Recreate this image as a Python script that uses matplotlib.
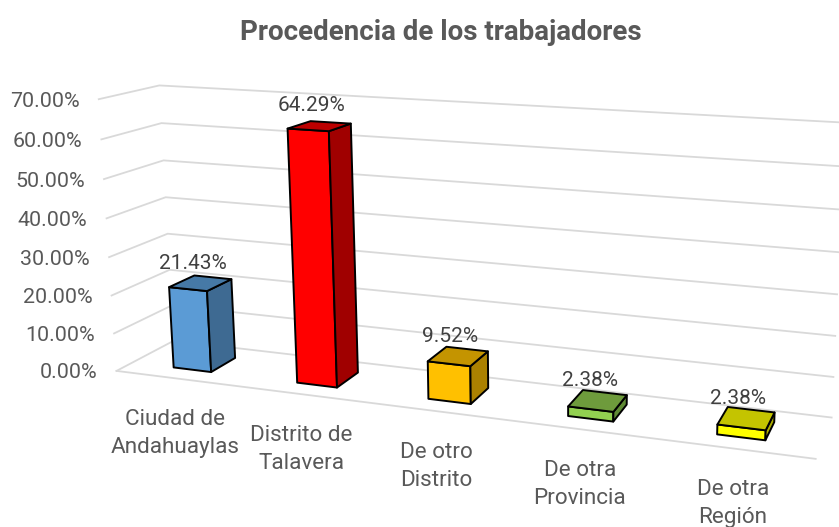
import numpy as np
import matplotlib
matplotlib.use("Agg")
import matplotlib.pyplot as plt
from matplotlib.patches import Polygon

plt.rcParams['font.family'] = ['Roboto', 'Liberation Sans', 'DejaVu Sans']

categories = ["Ciudad de\nAndahuaylas", "Distrito de\nTalavera", "De otro\nDistrito",
              "De otra\nProvincia", "De otra\nRegión"]
values = [21.43, 64.29, 9.52, 2.38, 2.38]
value_labels = ["21.43%", "64.29%", "9.52%", "2.38%", "2.38%"]
tick_values = [0, 10, 20, 30, 40, 50, 60, 70]
tick_labels = ["0.00%", "10.00%", "20.00%", "30.00%", "40.00%", "50.00%", "60.00%", "70.00%"]
front_colors = ["#5B9BD5", "#FF0000", "#FFC000", "#92D050", "#FFFF00"]
side_colors = ["#3E6A92", "#A00000", "#AB8100", "#5F8A34", "#ABAB00"]
top_colors = ["#4679A6", "#BC0000", "#C49400", "#6E9B3C", "#C4C400"]

VMAX = 70.0
BAR_W = 0.31
D0, D1 = 0.27, 0.72

# Camera: (category pos, depth, value/max) -> pixel, calibrated on the chart box corners
world = np.array([(0, 0, 0), (1, 0, 0), (0, 1, 0), (1, 1, 0), (0, 0, 1), (0, 1, 1), (1, 1, 1),
                  (0, 1, 3/7), (1, 1, 3/7)], float)
pix = np.array([(117, 370), (816, 459), (173, 342), (832, 417), (98, 100), (160, 85), (845, 122.3),
                (168, 233), (836, 295)], float)
rows = []
for (a, b, c), (x, y) in zip(world, pix):
    rows.append([a, b, c, 1, 0, 0, 0, 0, -x*a, -x*b, -x*c, -x])
    rows.append([0, 0, 0, 0, a, b, c, 1, -y*a, -y*b, -y*c, -y])
P = np.linalg.svd(np.array(rows))[2][-1].reshape(3, 4)


def project(u, d, val):
    h = P @ np.array([u, d, val / VMAX, 1.0])
    return h[0] / h[2], h[1] / h[2]


fig = plt.figure(figsize=(8.39, 5.27), dpi=100)
ax = fig.add_axes([0, 0, 1, 1])
ax.set_xlim(0, 839)
ax.set_ylim(527, 0)
ax.axis("off")

GRID = "#D9D9D9"
for t, lab in zip(tick_values, tick_labels):
    pts = [project(0, 0, t), project(0, 1, t), project(1, 1, t)]
    ax.plot(*zip(*pts), color=GRID, lw=1.3, solid_joinstyle="miter", zorder=1)
    fx, fy = project(0, 0, t)
    ax.text(fx - 19, fy + 2, lab, ha="right", va="center", fontsize=15.4, color="#595959", zorder=5)
ax.plot(*zip(project(0, 0, 0), project(1, 0, 0)), color=GRID, lw=1.3, zorder=1)

for i, (cat, val, vlab) in enumerate(zip(categories, values, value_labels)):
    c = (i + 0.5) / len(values)
    half = BAR_W / len(values) / 2
    u0, u1 = c - half, c + half
    fl0, fr0 = project(u0, D0, 0), project(u1, D0, 0)
    fl1, fr1 = project(u0, D0, val), project(u1, D0, val)
    br0, br1 = project(u1, D1, 0), project(u1, D1, val)
    bl1 = project(u0, D1, val)
    style = dict(edgecolor="black", lw=1.4, joinstyle="round", zorder=3)
    ax.add_patch(Polygon([fl0, fr0, fr1, fl1], facecolor=front_colors[i], **style))
    ax.add_patch(Polygon([fr0, br0, br1, fr1], facecolor=side_colors[i], **style))
    ax.add_patch(Polygon([fl1, fr1, br1, bl1], facecolor=top_colors[i], **style))

    tx, ty = project(c, 0.5, val)
    ax.text(tx - 8, ty - 20, vlab, ha="center", va="center", fontsize=15, color="#404040", zorder=6)
    lx, ly = project(c, 0, 0)
    ax.text(lx - 2, ly + 55, cat, ha="center", va="center", fontsize=16.2, color="#595959",
            linespacing=1.45, zorder=6)

ax.text(441, 32, "Procedencia de los trabajadores", ha="center", va="center",
        fontsize=20, fontweight="bold", color="#595959")

fig.savefig("out.png", dpi=100)
